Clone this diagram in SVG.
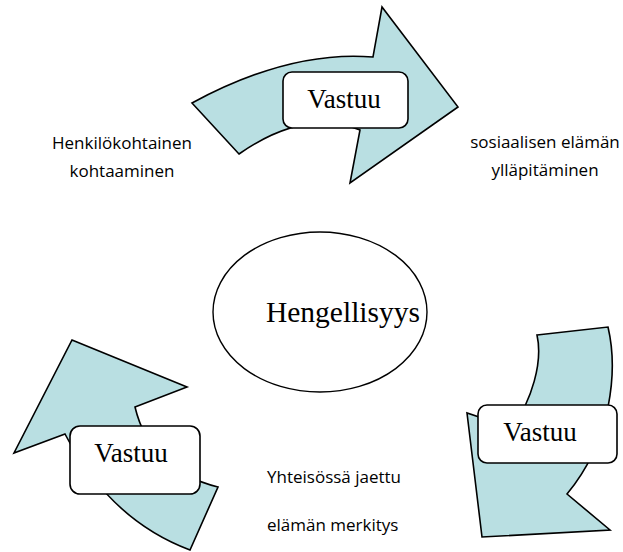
<svg xmlns="http://www.w3.org/2000/svg" width="623" height="552" viewBox="0 0 623 552">
  <style>
    .arrow { fill: #B9DFE2; stroke: #000; stroke-width: 1.6; stroke-linejoin: miter; }
    .box { fill: #fff; stroke: #000; stroke-width: 1.6; }
    .serif { font-family: "Liberation Serif", "Times New Roman", serif; fill: #000; }
    .sans { font-family: "Open Sans", "Noto Sans", sans-serif; font-size: 17px; fill: #000; }
  </style>

  <rect width="623" height="552" fill="#fff"/>

  <!-- curved block arrows circling the centre -->
  <g id="connectors">
    <path id="arrow-top" class="arrow" d="M192,103 Q290,50 373,57 L382,7 L458,107 L350,183 L360,130 Q305,108 239,154 Z"/>
    <path id="arrow-right" class="arrow" d="M537,335 L608,327 C618,370 612,440 567,494 L610,530 L482,537 L467,413 L512,428 C532,400 543,362 537,335 Z"/>
    <path id="arrow-left" class="arrow" d="M72,340 L187,387 L135,407 Q150,470 218,487 L190,550 Q110,520 65,434 L14,453 Z"/>
  </g>

  <!-- centre -->
  <g id="node-centre">
    <ellipse cx="320" cy="312" rx="107" ry="80" fill="#fff" stroke="#000" stroke-width="1.4"/>
    <text class="serif" x="343" y="322" font-size="29.5" text-anchor="middle">Hengellisyys</text>
  </g>

  <!-- labelled boxes on the arrows -->
  <g id="node-vastuu-top">
    <rect class="box" x="283" y="72" width="125" height="56" rx="9"/>
    <text class="serif" x="344" y="108" font-size="27" text-anchor="middle">Vastuu</text>
  </g>
  <g id="node-vastuu-right">
    <rect class="box" x="478" y="405" width="139" height="58" rx="9"/>
    <text class="serif" x="540" y="441" font-size="27" text-anchor="middle">Vastuu</text>
  </g>
  <g id="node-vastuu-left">
    <rect class="box" x="70" y="426" width="130" height="68" rx="10"/>
    <text class="serif" x="131" y="462" font-size="27" text-anchor="middle">Vastuu</text>
  </g>

  <!-- free-standing captions -->
  <g id="label-henkilokohtainen">
    <text class="sans" x="122" y="149" text-anchor="middle">Henkilökohtainen</text>
    <text class="sans" x="122" y="177" text-anchor="middle">kohtaaminen</text>
  </g>
  <g id="label-sosiaalisen">
    <text class="sans" x="545" y="148" text-anchor="middle">sosiaalisen elämän</text>
    <text class="sans" x="545" y="176" text-anchor="middle">ylläpitäminen</text>
  </g>
  <g id="label-yhteisossa">
    <text class="sans" x="267" y="483">Yhteisössä jaettu</text>
    <text class="sans" x="267" y="531">elämän merkitys</text>
  </g>
</svg>
